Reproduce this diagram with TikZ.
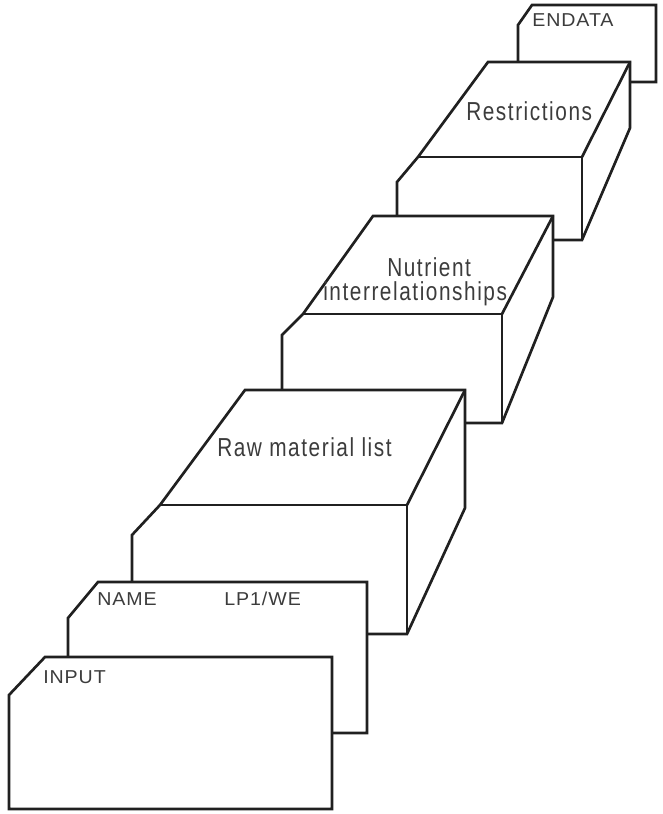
\documentclass[tikz,border=0pt]{standalone}
\usepackage{fontspec}
\newfontfamily\blockfont[FakeStretch=0.8,LetterSpace=6]{Liberation Sans}
\newfontfamily\cardfont[FakeStretch=1.05,LetterSpace=5]{Liberation Sans}
\definecolor{ink}{HTML}{202020}
\definecolor{txt}{HTML}{3C3C3C}
\tikzset{
  outline/.style={draw=ink, line width=2pt, line join=miter, fill=white},
  edge/.style={draw=ink, line width=2pt},
  blocklabel/.style={anchor=base west, inner sep=0pt, text=txt, font=\blockfont\fontsize{19.5}{22}\selectfont},
  cardlabel/.style={anchor=base west, inner sep=0pt, text=txt, font=\cardfont\fontsize{14}{16}\selectfont},
}
\begin{document}
\begin{tikzpicture}[x=0.75pt, y=-0.75pt]
\useasboundingbox (0,0) rectangle (662,814);
\fill[white] (0,0) rectangle (662,814);

% ENDATA card (back)
\path[outline] (518,82) -- (518,25) -- (532,5) -- (656,5) -- (656,82) -- cycle;
\node[cardlabel] (endata) at (532,26) {ENDATA};

% Restrictions block
\coordinate (rTL) at (488,62);  \coordinate (rTR) at (630,62);
\coordinate (rSR) at (630,128); \coordinate (rFBR) at (582,240);
\coordinate (rFBL) at (397,240); \coordinate (rVL) at (397,182);
\coordinate (rFTL) at (418,157); \coordinate (rFTR) at (582,157);
\path[outline] (rTL) -- (rTR) -- (rSR) -- (rFBR) -- (rFBL) -- (rVL) -- (rFTL) -- cycle;
\draw[edge] (rFTL) -- (rFTR) -- (rFBR);
\draw[edge] (rTR) -- (rFTR);
\node[blocklabel] (restrictions) at (466,120) {Restrictions};

% Nutrient block
\coordinate (nTL) at (373,216);  \coordinate (nTR) at (553,216);
\coordinate (nSR) at (553,297);  \coordinate (nFBR) at (502,423);
\coordinate (nFBL) at (282,423); \coordinate (nVL) at (282,335);
\coordinate (nFTL) at (303,314); \coordinate (nFTR) at (502,314);
\path[outline] (nTL) -- (nTR) -- (nSR) -- (nFBR) -- (nFBL) -- (nVL) -- (nFTL) -- cycle;
\draw[edge] (nFTL) -- (nFTR) -- (nFBR);
\draw[edge] (nTR) -- (nFTR);
\node[blocklabel] (nutrient) at (387,276) {Nutrient};
\node[blocklabel] (interrel) at (323,300) {interrelationships};

% Raw material block
\coordinate (mTL) at (245,390);  \coordinate (mTR) at (465,390);
\coordinate (mSR) at (465,508);  \coordinate (mFBR) at (407,634);
\coordinate (mFBL) at (132,634); \coordinate (mVL) at (132,535);
\coordinate (mFTL) at (160,505); \coordinate (mFTR) at (407,505);
\path[outline] (mTL) -- (mTR) -- (mSR) -- (mFBR) -- (mFBL) -- (mVL) -- (mFTL) -- cycle;
\draw[edge] (mFTL) -- (mFTR) -- (mFBR);
\draw[edge] (mTR) -- (mFTR);
\node[blocklabel] (rawlist) at (217,456) {Raw material list};

% NAME card
\path[outline] (68,733) -- (68,618) -- (98,582) -- (367,582) -- (367,733) -- cycle;
\node[cardlabel] (name) at (97,605) {NAME};
\node[cardlabel] (lpwe) at (224,605) {LP1/WE};

% INPUT card (front)
\path[outline] (9,809) -- (9,695) -- (45,657) -- (332,657) -- (332,809) -- cycle;
\node[cardlabel] (input) at (43,683) {INPUT};
\end{tikzpicture}
\end{document}
